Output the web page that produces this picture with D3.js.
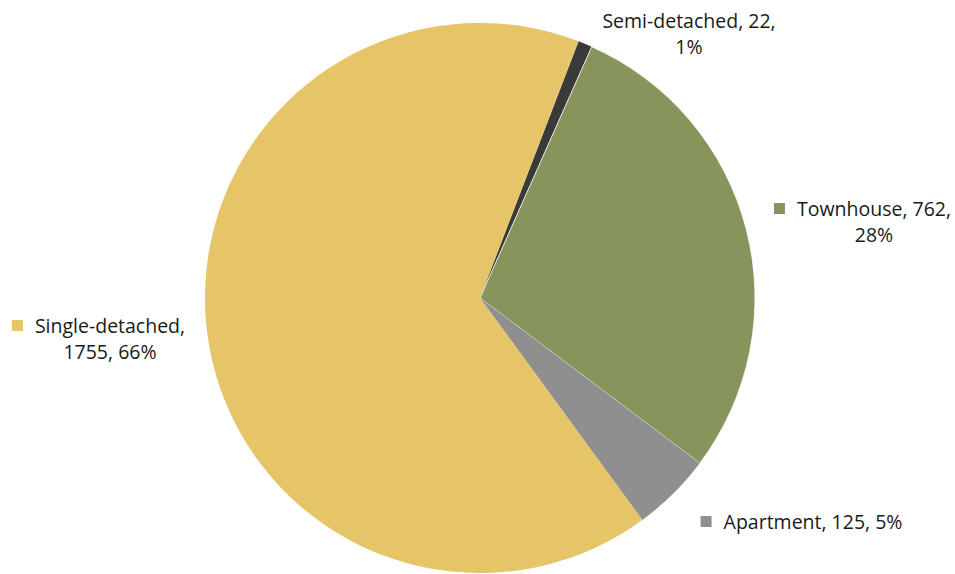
<!DOCTYPE html>
<html><head><meta charset="utf-8">
<script src="https://cdn.jsdelivr.net/npm/d3@7"></script>
<style>body{margin:0;background:#fff}svg{display:block}</style>
</head><body>
<svg id="c" width="955" height="574"></svg>
<script>
const categories = ["Semi-detached", "Townhouse", "Apartment", "Single-detached"];
const values = [22, 762, 125, 1755];
const percents = ["1%", "28%", "5%", "66%"];
const colors = ["#3a3a3a", "#87955d", "#8f8f8f", "#e6c468"];

const svg = d3.select("#c");
const cx = 480, cy = 298, r = 275;
const startDeg = 21;
const pie = d3.pie().sort(null).value(d => d)
  .startAngle(startDeg * Math.PI / 180)
  .endAngle((startDeg + 360) * Math.PI / 180);
const arcs = pie(values);
const arc = d3.arc().innerRadius(0).outerRadius(r);
const g = svg.append("g").attr("transform", `translate(${cx},${cy})`);
g.selectAll("path").data(arcs).enter().append("path")
  .attr("d", arc).attr("fill", (d, i) => colors[i])
  .attr("stroke", (d, i) => i === 1 ? "#fff" : "none").attr("stroke-width", 0.8);

const font = "'Open Sans', Lato, sans-serif";
const fs = 19.5;
const labels = [
  {i: 0, lines: [`${categories[0]}, ${values[0]},`, percents[0]], x: 689, y: 21, key: false},
  {i: 1, lines: [`${categories[1]}, ${values[1]},`, percents[1]], x: 874, y: 209, key: true},
  {i: 2, lines: [`${categories[2]}, ${values[2]}, ${percents[2]}`], x: 813, y: 522, key: true},
  {i: 3, lines: [`${categories[3]},`, `${values[3]}, ${percents[3]}`], x: 110, y: 326, key: true}
];
labels.forEach(L => {
  const t = svg.append("text").attr("font-family", font).attr("font-size", fs)
    .attr("fill", "#1a1a1a").attr("text-anchor", "middle");
  L.lines.forEach((s, k) => {
    t.append("tspan").attr("x", L.x).attr("y", L.y + k * 26).attr("dy", "0.35em").text(s);
  });
  if (L.key) {
    const w = t.select("tspan").node().getComputedTextLength();
    const left = L.x - w / 2;
    svg.append("rect").attr("x", left - 23).attr("y", L.y - 6)
      .attr("width", 11).attr("height", 11).attr("fill", colors[L.i]);
  }
});
</script>
</body></html>
